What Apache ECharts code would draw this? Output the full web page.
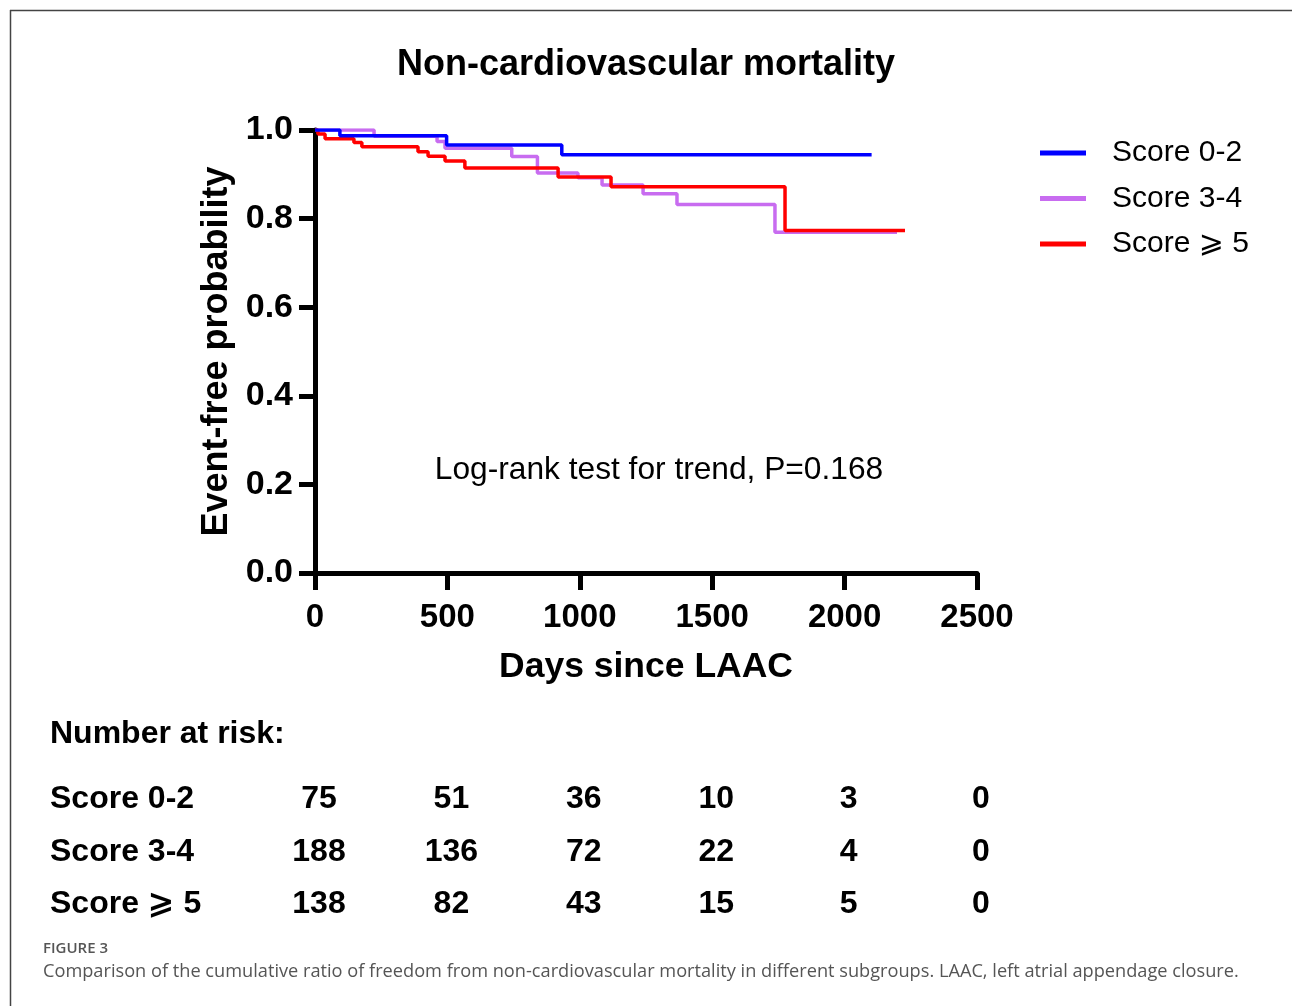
<!DOCTYPE html>
<html>
<head>
<meta charset="utf-8">
<script src="https://cdn.jsdelivr.net/npm/echarts@6/dist/echarts.min.js"></script>
<style>
html,body{margin:0;padding:0;background:#fff;}
#main{width:1292px;height:1006px;}
</style>
</head>
<body>
<div id="main"></div>
<script>
// ---- Data ----
const groups = ['Score 0-2', 'Score 3-4', 'Score \u2A7E 5'];
const colors = ['#0000FF', '#C86CF0', '#FF0000'];
// Kaplan-Meier steps: [day, event-free probability]
const score02 = [[0,1.0],[94,0.987],[497,0.966],[932,0.944],[2102,0.944]];
const score34 = [[0,1.0],[223,0.986],[461,0.974],[491,0.959],[743,0.940],[840,0.903],[993,0.892],[1084,0.876],[1239,0.856],[1367,0.832],[1737,0.769],[2198,0.769]];
const score5  = [[0,1.0],[11,0.991],[38,0.980],[147,0.972],[177,0.962],[389,0.951],[427,0.941],[491,0.930],[566,0.914],[918,0.894],[1118,0.872],[1775,0.773],[2228,0.773]];
// Number at risk
const riskDays = [0, 500, 1000, 1500, 2000, 2500];
const risk02 = [75, 51, 36, 10, 3, 0];
const risk34 = [188, 136, 72, 22, 4, 0];
const risk5  = [138, 82, 43, 15, 5, 0];
const xTicks = [0, 500, 1000, 1500, 2000, 2500];
const yTicks = [0.0, 0.2, 0.4, 0.6, 0.8, 1.0];

const FONT = "'Liberation Sans', Arial, 'DejaVu Sans', sans-serif";
const chart = echarts.init(document.getElementById('main'), null, {renderer: 'canvas'});

function riskSeries(name, values) {
  return {
    type: 'scatter', xAxisIndex: 1, yAxisIndex: 1,
    symbolSize: 1, itemStyle: {color: 'rgba(0,0,0,0)', opacity: 1},
    silent: true,
    data: riskDays.map((d, i) => [d, name, values[i]]),
    label: {
      show: true, position: 'inside', offset: [4, 0],
      formatter: p => String(p.value[2]),
      fontFamily: FONT, fontWeight: 'bold', fontSize: 32, color: '#000'
    }
  };
}

const kmData = [score02, score34, score5];
const option = {
  backgroundColor: '#fff',
  animation: false,
  title: {
    text: 'Non-cardiovascular mortality',
    left: 'center', top: 42,
    textStyle: {fontFamily: FONT, fontWeight: 'bold', fontSize: 36, color: '#000'}
  },
  legend: {
    data: groups,
    orient: 'vertical', left: 1035, top: 133,
    icon: 'rect', itemWidth: 46, itemHeight: 5, itemGap: 15.5,
    textStyle: {fontFamily: FONT, fontSize: 30, color: '#000', padding: [0, 0, 0, 21]}
  },
  grid: [
    {left: 315, top: 130, width: 662, height: 443},
    {left: 315, top: 773, width: 662, height: 158}
  ],
  xAxis: [
    {
      type: 'value', gridIndex: 0, min: 0, max: 2500, interval: 500,
      name: 'Days since LAAC', nameLocation: 'middle', nameGap: 76,
      nameTextStyle: {fontFamily: FONT, fontWeight: 'bold', fontSize: 35.5, color: '#000'},
      axisLine: {show: true, lineStyle: {color: '#000', width: 5}},
      axisTick: {show: true, length: 17, lineStyle: {color: '#000', width: 5}},
      axisLabel: {margin: 28, formatter: v => String(v), fontFamily: FONT, fontWeight: 'bold', fontSize: 33, color: '#000'},
      splitLine: {show: false}
    },
    {type: 'value', gridIndex: 1, min: 0, max: 2500, show: false}
  ],
  yAxis: [
    {
      type: 'value', gridIndex: 0, min: 0, max: 1, interval: 0.2,
      name: 'Event-free probability', nameLocation: 'middle', nameGap: 75, nameRotate: 90,
      nameTextStyle: {fontFamily: FONT, fontWeight: 'bold', fontSize: 36, color: '#000'},
      axisLine: {show: true, lineStyle: {color: '#000', width: 5}},
      axisTick: {show: true, length: 16, lineStyle: {color: '#000', width: 5}},
      axisLabel: {margin: 22, formatter: v => v.toFixed(1), fontFamily: FONT, fontWeight: 'bold', fontSize: 34, color: '#000'},
      splitLine: {show: false}
    },
    {
      type: 'category', gridIndex: 1, inverse: true, data: groups,
      axisLine: {show: false}, axisTick: {show: false}, splitLine: {show: false},
      axisLabel: {align: 'left', margin: 265, fontFamily: FONT, fontWeight: 'bold', fontSize: 32, color: '#000'}
    }
  ],
  series: [
    {name: groups[1], type: 'line', step: 'end', showSymbol: false, data: kmData[1], lineStyle: {color: colors[1], width: 3.5}, itemStyle: {color: colors[1]}, z: 2},
    {name: groups[2], type: 'line', step: 'end', showSymbol: false, data: kmData[2], lineStyle: {color: colors[2], width: 3.5}, itemStyle: {color: colors[2]}, z: 3},
    {name: groups[0], type: 'line', step: 'end', showSymbol: false, data: kmData[0], lineStyle: {color: colors[0], width: 3.5}, itemStyle: {color: colors[0]}, z: 4},
    riskSeries(groups[0], risk02),
    riskSeries(groups[1], risk34),
    riskSeries(groups[2], risk5)
  ],
  graphic: [
    {type: 'line', shape: {x1: 10, y1: 10.5, x2: 1292, y2: 10.5}, style: {stroke: '#444', lineWidth: 1.5}},
    {type: 'line', shape: {x1: 10.5, y1: 10, x2: 10.5, y2: 1006}, style: {stroke: '#444', lineWidth: 1.5}},
    {type: 'text', x: 659, y: 470, style: {text: 'Log-rank test for trend, P=0.168', fontFamily: FONT, fontSize: 31.7, fill: '#000', textAlign: 'center', textVerticalAlign: 'middle'}},
    {type: 'text', x: 50, y: 734, style: {text: 'Number at risk:', fontFamily: FONT, fontWeight: 'bold', fontSize: 32, fill: '#000', textAlign: 'left', textVerticalAlign: 'middle'}},
    {type: 'text', x: 43, y: 949, style: {text: 'FIGURE 3', fontFamily: "'Open Sans', sans-serif", fontWeight: 600, fontSize: 15, fill: '#555', textAlign: 'left', textVerticalAlign: 'middle'}},
    {type: 'text', x: 43, y: 972, style: {text: 'Comparison of the cumulative ratio of freedom from non-cardiovascular mortality in different subgroups. LAAC, left atrial appendage closure.', fontFamily: "'Open Sans', sans-serif", fontSize: 18.2, fill: '#555', textAlign: 'left', textVerticalAlign: 'middle'}}
  ]
};
chart.setOption(option);
</script>
</body>
</html>
